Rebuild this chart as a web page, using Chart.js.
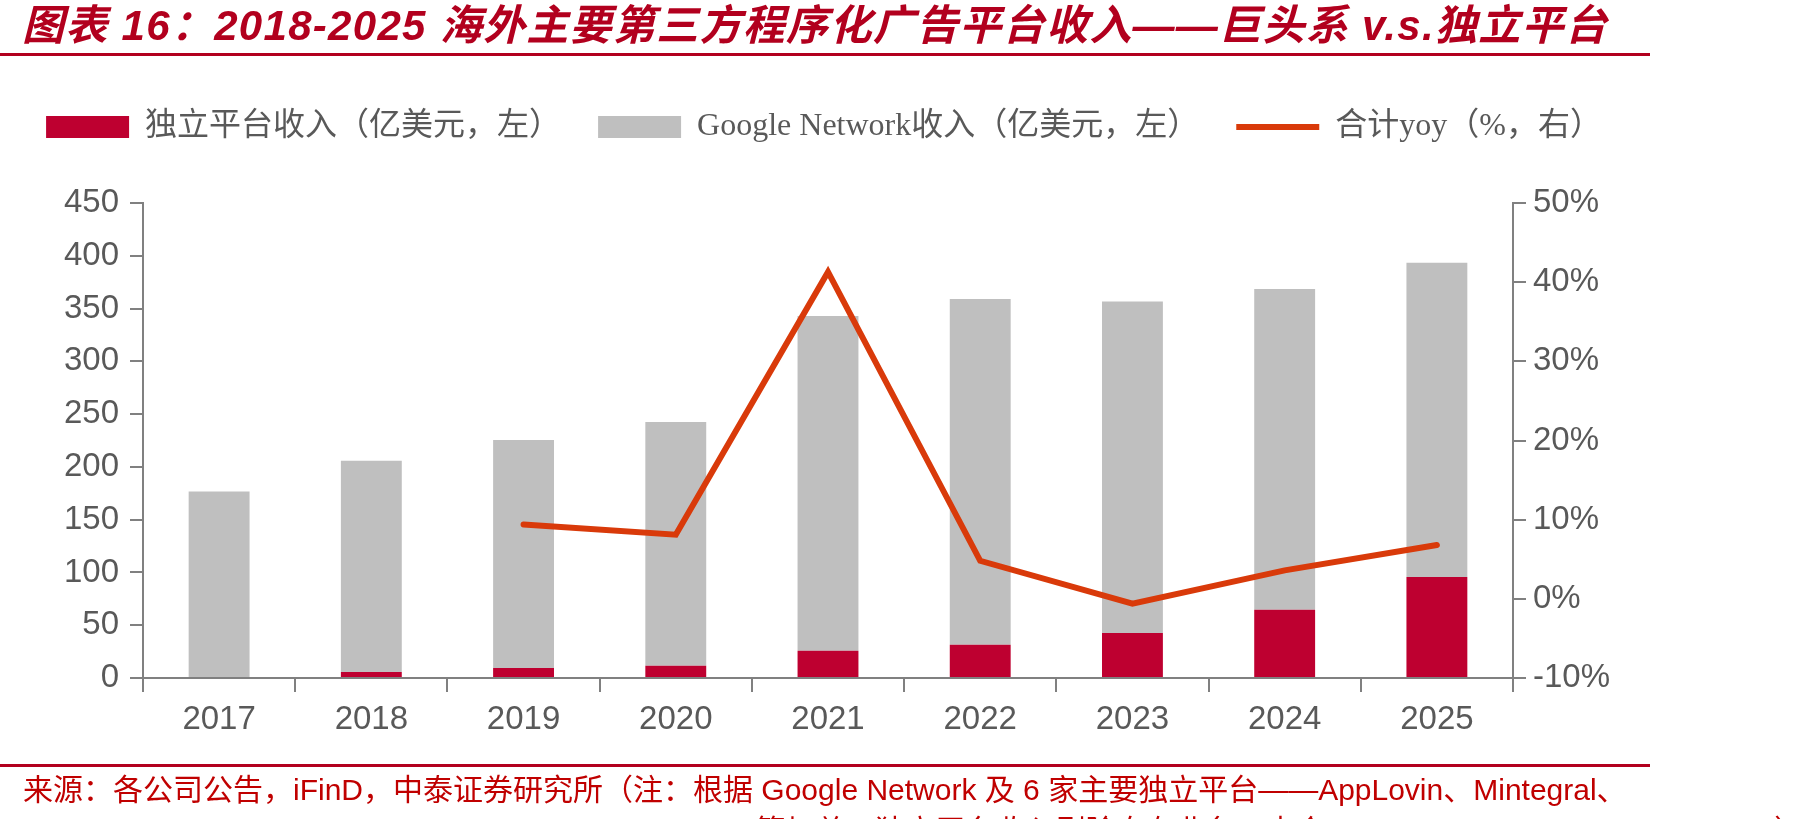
<!DOCTYPE html>
<html>
<head>
<meta charset="utf-8">
<script src="https://cdn.jsdelivr.net/npm/chart.js@4/dist/chart.umd.min.js"></script>
<style>
  html, body { margin: 0; padding: 0; background: #fff; }
  #wrap { position: relative; width: 1807px; height: 819px; overflow: hidden; background: #fff; }
  #c { position: absolute; left: 0; top: 0; }
  .title { position: absolute; left: 22px; top: 0px; font-family: 'Liberation Sans', 'Noto Sans CJK SC', sans-serif; font-weight: bold; font-style: italic; font-size: 42px; line-height: 52px; letter-spacing: 1.3px; color: #B2001E; white-space: nowrap; }
  .rule { position: absolute; left: 0; width: 1650px; height: 3px; background: #B2001E; }
  .src { position: absolute; left: 23px; font-family: 'Liberation Sans', 'Noto Sans CJK SC', sans-serif; font-size: 30px; line-height: 41px; color: #C00000; white-space: nowrap; }
</style>
</head>
<body>
<div id="wrap">
  <canvas id="c" width="1807" height="819"></canvas>
  <div class="title">图表 16：2018-2025 海外主要第三方程序化广告平台收入——巨头系 v.s.独立平台</div>
  <div class="rule" style="top:53px"></div>
  <div class="rule" style="top:764px"></div>
  <div class="src" style="top:769px">来源：各公司公告，iFinD，中泰证券研究所（注：根据 Google Network 及 6 家主要独立平台——AppLovin、Mintegral、<br>Unity Ads、ironSource、Digital Turbine、Liftoff、Viant 等加总，独立平台收入剔除自有业务，未含 Meta Audience Network、Pangle）</div>
</div>
<script>
const categories = ['2017', '2018', '2019', '2020', '2021', '2022', '2023', '2024', '2025'];
const independentRevenue = [0, 5.7, 9.5, 11.7, 25.9, 31.6, 42.6, 64.7, 95.7];
const googleNetworkRevenue = [176.8, 200.2, 216.0, 230.9, 317.1, 327.5, 314.0, 303.9, 297.6];
const totalYoY = [null, null, 9.4, 8.1, 41.3, 4.8, -0.6, 3.6, 6.8];
const seriesNames = ['独立平台收入（亿美元，左）', 'Google Network收入（亿美元，左）', '合计yoy（%，右）'];

const AXIS = '#808080';
const TXT = '#595959';
const tickFont = { family: "'Liberation Sans', Arial, sans-serif", size: 33 };

const legendSpacer = {
  id: 'legendSpacer',
  beforeInit(chart) {
    if (!chart.legend) return;
    const orig = chart.legend.fit;
    chart.legend.fit = function () {
      orig.bind(chart.legend)();
      this.height += 50;
    };
  }
};

new Chart(document.getElementById('c'), {
  type: 'bar',
  data: {
    labels: categories,
    datasets: [
      {
        type: 'bar', label: seriesNames[0], data: independentRevenue,
        backgroundColor: '#BE0030', borderWidth: 0, yAxisID: 'y', stack: 's',
        barPercentage: 0.4, categoryPercentage: 1.0, order: 0
      },
      {
        type: 'bar', label: seriesNames[1], data: googleNetworkRevenue,
        backgroundColor: '#BFBFBF', borderWidth: 0, yAxisID: 'y', stack: 's',
        barPercentage: 0.4, categoryPercentage: 1.0, order: 0
      },
      {
        type: 'line', label: seriesNames[2], data: totalYoY,
        borderColor: '#D93A0A', backgroundColor: '#D93A0A', borderWidth: 6,
        pointRadius: 0, tension: 0, fill: false, yAxisID: 'y1',
        borderCapStyle: 'round', borderJoinStyle: 'miter', spanGaps: false, order: -1
      }
    ]
  },
  options: {
    responsive: false,
    animation: false,
    devicePixelRatio: 1,
    layout: { padding: { left: 0, right: 159, top: 74, bottom: 81 } },
    plugins: {
      title: { display: false },
      tooltip: { enabled: false },
      legend: {
        display: true,
        position: 'top',
        fullSize: true,
        labels: {
          usePointStyle: true,
          pointStyleWidth: 83,
          boxHeight: 22,
          padding: 37,
          color: TXT,
          font: { family: "'Liberation Serif', 'Noto Sans CJK SC', serif", size: 32 },
          generateLabels(chart) {
            return chart.data.datasets.map((ds, i) => ({
              text: ds.label,
              fillStyle: ds.type === 'line' ? ds.borderColor : ds.backgroundColor,
              strokeStyle: ds.type === 'line' ? ds.borderColor : ds.backgroundColor,
              lineWidth: ds.type === 'line' ? 6 : 0,
              lineCap: 'butt',
              pointStyle: ds.type === 'line' ? 'line' : 'rect',
              hidden: false,
              datasetIndex: i,
              fontColor: TXT
            }));
          }
        }
      }
    },
    scales: {
      x: {
        stacked: true,
        offset: true,
        grid: { offset: true, drawOnChartArea: false, drawTicks: true, tickLength: 14, color: AXIS, tickColor: AXIS, lineWidth: 2 },
        border: { display: true, color: AXIS, width: 2 },
        ticks: { font: tickFont, color: TXT, padding: 8, maxRotation: 0, autoSkip: false },
        afterFit(s) { s.height = 60; }
      },
      y: {
        position: 'left',
        stacked: true,
        min: 0, max: 450,
        grid: { drawOnChartArea: false, drawTicks: true, tickLength: 13, color: AXIS, tickColor: AXIS, lineWidth: 2 },
        border: { display: true, color: AXIS, width: 2 },
        ticks: { stepSize: 50, font: tickFont, color: TXT, padding: 11 },
        afterFit(s) { s.width = 143; }
      },
      y1: {
        position: 'right',
        min: -10, max: 50,
        grid: { drawOnChartArea: false, drawTicks: true, tickLength: 13, color: AXIS, tickColor: AXIS, lineWidth: 2 },
        border: { display: true, color: AXIS, width: 2 },
        ticks: { stepSize: 10, font: tickFont, color: TXT, padding: 7, callback: v => v + '%' },
        afterFit(s) { s.width = 135; }
      }
    }
  },
  plugins: [legendSpacer]
});
</script>
</body>
</html>
